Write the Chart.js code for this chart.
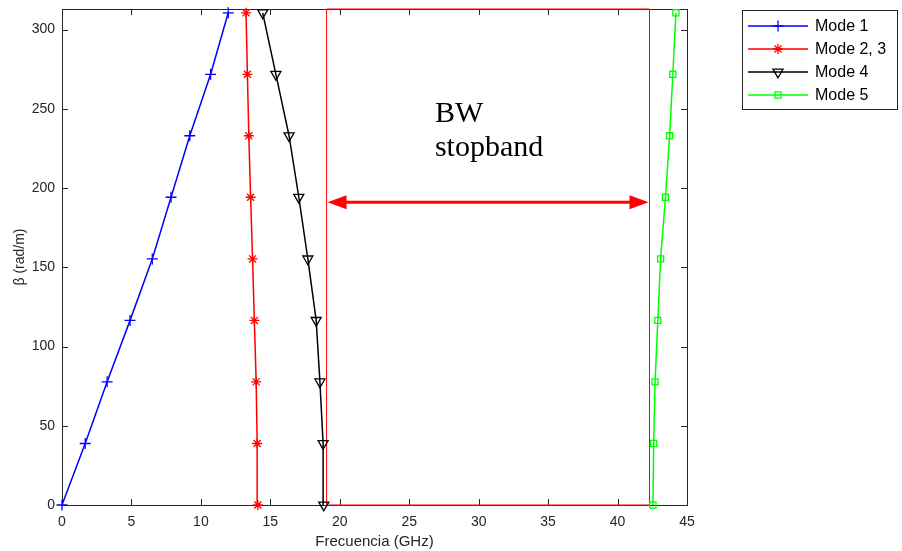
<!DOCTYPE html>
<html>
<head>
<meta charset="utf-8">
<script src="https://cdn.jsdelivr.net/npm/chart.js@4.4.1/dist/chart.umd.min.js"></script>
<style>
  html, body { margin: 0; padding: 0; background: #fff; }
</style>
</head>
<body>
<canvas id="chart" width="902" height="551"></canvas>
<script>
// beta samples (rad/m), shared by every mode
const betaValues = [0, 38.8, 77.7, 116.5, 155.3, 194.2, 233, 271.8, 310.6]
// frequency (GHz) for each mode at those beta values
const mode1Freq = [0, 1.67, 3.25, 4.9, 6.5, 7.85, 9.2, 10.7, 11.97]
const mode23Freq = [14.1, 14.05, 13.98, 13.85, 13.72, 13.58, 13.45, 13.35, 13.25]
const mode4Freq = [18.85, 18.8, 18.57, 18.3, 17.7, 17.05, 16.35, 15.4, 14.45]
const mode5Freq = [42.55, 42.6, 42.7, 42.9, 43.1, 43.45, 43.75, 43.98, 44.2]

// stopband box and arrow
const bwFreq = [19.05, 19.05, 42.3, 42.3, 19.05]
const bwBeta = [0, 313, 313, 0, 0]
const arrowBeta = 191

const xTicks = [0, 5, 10, 15, 20, 25, 30, 35, 40, 45]
const yTicks = [0, 50, 100, 150, 200, 250, 300]

const axisColor = '#262626'
const sans = '"Liberation Sans", Arial, sans-serif'

function toPoints(xs, ys) {
  return xs.map((x, i) => ({ x: x, y: ys[i] }))
}

function modeDataset(label, freq, color, style, radius, rotation) {
  return {
    label: label,
    data: toPoints(freq, betaValues),
    showLine: true,
    borderColor: color,
    backgroundColor: 'rgba(0,0,0,0)',
    borderWidth: 1.5,
    pointStyle: style,
    pointRadius: radius,
    pointRotation: rotation || 0,
    pointBorderColor: color,
    pointBackgroundColor: 'rgba(0,0,0,0)',
    pointBorderWidth: 1.3,
    clip: false
  }
}

// box with inward ticks, MATLAB style
const axisBox = {
  id: 'axisBox',
  beforeDatasetsDraw(chart) {
    const { ctx, chartArea: a, scales: { x, y } } = chart
    ctx.save()
    ctx.strokeStyle = axisColor
    ctx.lineWidth = 1
    ctx.strokeRect(a.left + 0.5, a.top + 0.5, a.right - a.left, a.bottom - a.top)
    ctx.beginPath()
    for (const t of x.ticks) {
      const px = Math.round(x.getPixelForValue(t.value)) + 0.5
      ctx.moveTo(px, a.bottom); ctx.lineTo(px, a.bottom - 6)
      ctx.moveTo(px, a.top); ctx.lineTo(px, a.top + 6)
    }
    for (const t of y.ticks) {
      const py = Math.round(y.getPixelForValue(t.value)) + 0.5
      ctx.moveTo(a.left, py); ctx.lineTo(a.left + 6, py)
      ctx.moveTo(a.right, py); ctx.lineTo(a.right - 6, py)
    }
    ctx.stroke()
    ctx.restore()
  }
}

// double arrow and label for the stopband
const stopbandNote = {
  id: 'stopbandNote',
  afterDatasetsDraw(chart) {
    const { ctx, scales: { x, y } } = chart
    const x1 = x.getPixelForValue(bwFreq[0]) + 1
    const x2 = x.getPixelForValue(bwFreq[2]) - 1
    const py = y.getPixelForValue(arrowBeta)
    const head = 19, half = 7
    ctx.save()
    ctx.strokeStyle = '#ff0000'
    ctx.fillStyle = '#ff0000'
    ctx.lineWidth = 3
    ctx.beginPath()
    ctx.moveTo(x1 + head - 2, py); ctx.lineTo(x2 - head + 2, py)
    ctx.stroke()
    ctx.beginPath()
    ctx.moveTo(x1, py); ctx.lineTo(x1 + head, py - half); ctx.lineTo(x1 + head, py + half)
    ctx.closePath(); ctx.fill()
    ctx.beginPath()
    ctx.moveTo(x2, py); ctx.lineTo(x2 - head, py - half); ctx.lineTo(x2 - head, py + half)
    ctx.closePath(); ctx.fill()

    ctx.fillStyle = '#000'
    ctx.font = '30px "Liberation Serif", "Times New Roman", serif'
    ctx.textAlign = 'left'
    ctx.textBaseline = 'alphabetic'
    const tx = x.getPixelForValue(26.85)
    ctx.fillText('BW', tx, y.getPixelForValue(241.7))
    ctx.fillText('stopband', tx, y.getPixelForValue(220.1))
    ctx.restore()
  }
}

// legend box at the right, drawn from the dataset styles
const sideLegend = {
  id: 'sideLegend',
  afterDraw(chart) {
    const { ctx } = chart
    const items = chart.data.datasets.filter(d => d.label)
    const left = 742.5, top = 10.5, w = 155, h = 99
    ctx.save()
    ctx.fillStyle = '#fff'
    ctx.fillRect(left, top, w, h)
    ctx.strokeStyle = axisColor
    ctx.lineWidth = 1
    ctx.strokeRect(left, top, w, h)
    items.forEach((d, i) => {
      const cy = 26 + i * 23
      ctx.strokeStyle = d.borderColor
      ctx.lineWidth = d.borderWidth
      ctx.beginPath()
      ctx.moveTo(748, cy); ctx.lineTo(808, cy)
      ctx.stroke()
      ctx.lineWidth = d.pointBorderWidth
      ctx.fillStyle = 'rgba(0,0,0,0)'
      Chart.helpers.drawPoint(ctx, {
        pointStyle: d.pointStyle,
        radius: d.pointRadius,
        rotation: d.pointRotation,
        borderWidth: d.pointBorderWidth
      }, 778, cy)
      ctx.fillStyle = '#000'
      ctx.font = '16px ' + sans
      ctx.textBaseline = 'middle'
      ctx.fillText(d.label, 815, cy + 1)
    })
    ctx.restore()
  }
}

new Chart(document.getElementById('chart'), {
  type: 'scatter',
  data: {
    datasets: [
      modeDataset('Mode 1', mode1Freq, '#0000ff', 'cross', 5.5),
      modeDataset('Mode 2, 3', mode23Freq, '#ff0000', 'star', 5),
      modeDataset('Mode 4', mode4Freq, '#000000', 'triangle', 5.8, 180),
      modeDataset('Mode 5', mode5Freq, '#00ff00', 'rect', 4.3),
      {
        data: toPoints(bwFreq, bwBeta),
        showLine: true,
        borderColor: '#ff0000',
        borderWidth: 1,
        pointRadius: 0,
        clip: false
      }
    ]
  },
  options: {
    responsive: false,
    animation: false,
    layout: { padding: { top: 9, right: 215, bottom: 0, left: 0 } },
    plugins: { legend: { display: false }, tooltip: { enabled: false } },
    scales: {
      x: {
        type: 'linear',
        min: 0,
        max: 45,
        afterBuildTicks: (s) => { s.ticks = xTicks.map(v => ({ value: v })) },
        afterFit: (s) => { s.height = 46; s.paddingLeft = 0; s.paddingRight = 0 },
        grid: { display: false, drawTicks: false },
        border: { display: false },
        ticks: { color: axisColor, font: { family: sans, size: 14 }, padding: 9, maxRotation: 0 },
        title: { display: true, text: 'Frecuencia (GHz)', color: axisColor, font: { family: sans, size: 15 }, padding: { top: 0, bottom: 0 } }
      },
      y: {
        type: 'linear',
        min: 0,
        max: 313,
        afterBuildTicks: (s) => { s.ticks = yTicks.map(v => ({ value: v })) },
        afterFit: (s) => { s.width = 62; s.paddingTop = 0; s.paddingBottom = 0 },
        grid: { display: false, drawTicks: false },
        border: { display: false },
        ticks: { color: axisColor, font: { family: sans, size: 14 }, padding: 7 },
        title: { display: true, text: 'β (rad/m)', color: axisColor, font: { family: sans, size: 14 }, padding: { top: 12, bottom: 0 } }
      }
    }
  },
  plugins: [axisBox, stopbandNote, sideLegend]
})
</script>
</body>
</html>
